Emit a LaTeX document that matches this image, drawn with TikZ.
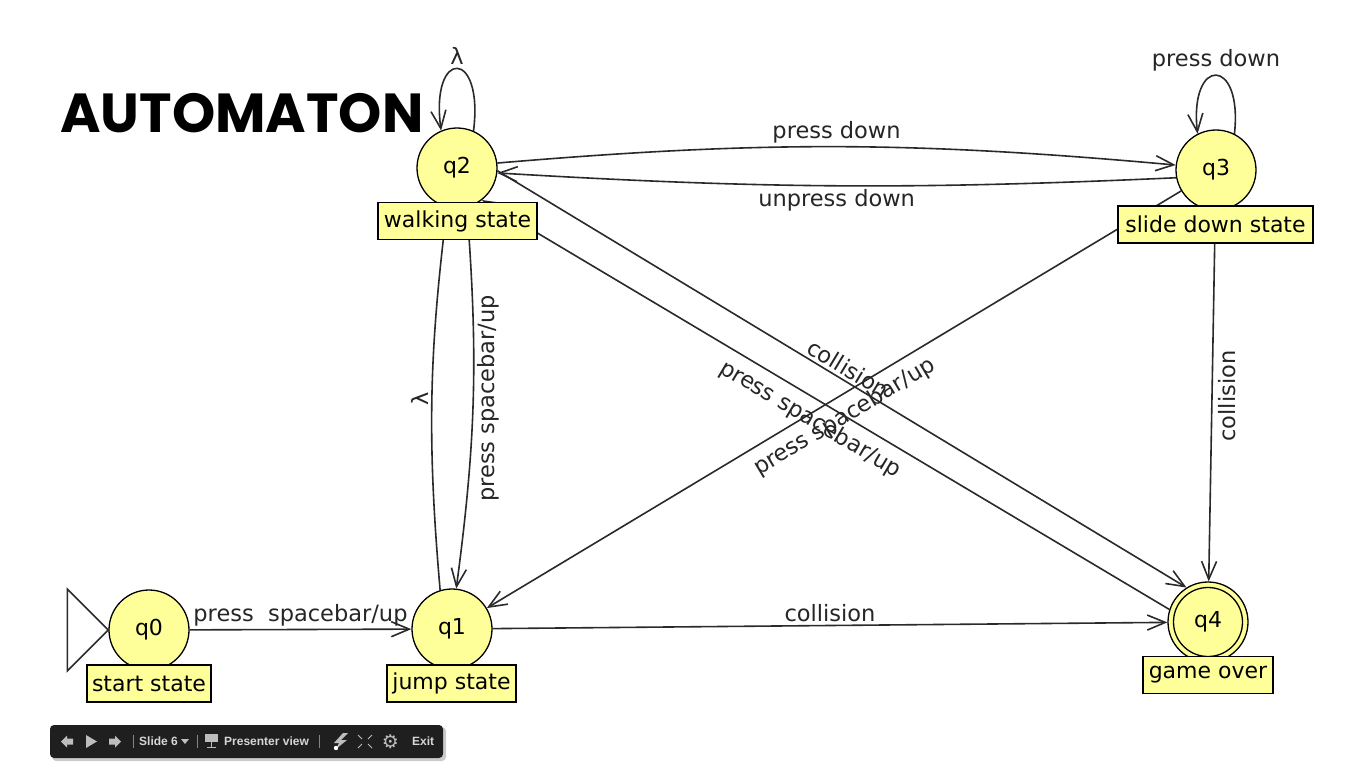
\documentclass[tikz,border=0pt]{standalone}
\usepackage{fontspec}
\setmainfont{DejaVu Sans}
\newfontfamily\titlefont{Poppins}
\newfontfamily\barfont{Liberation Sans}
\newfontfamily\symfont{DejaVu Sans}
\usetikzlibrary{arrows.meta,calc}
\pgfdeclarelayer{bottom}
\pgfdeclarelayer{background}
\pgfsetlayers{bottom,background,main}
\definecolor{stfill}{HTML}{FFFF99}
\definecolor{edgecol}{HTML}{2A2A2A}
\definecolor{barbg}{HTML}{1F1F1F}
\definecolor{bartext}{HTML}{D6D6D6}
\definecolor{baricon}{HTML}{BDBDBD}
\begin{document}
\begin{tikzpicture}[x=1pt,y=-1pt,
  state/.style={circle,draw=black,line width=1.3pt,fill=stfill,minimum size=80pt,inner sep=0pt,font=\fontsize{22}{25}\selectfont},
  tag/.style={rectangle,draw=black,line width=1.5pt,fill=stfill,minimum height=37pt,inner sep=0pt,font=\fontsize{22}{25}\selectfont},
  trans/.style={draw=edgecol,line width=1.6pt,-{Straight Barb[length=18pt,width=15pt]}},
  lbl/.style={font=\fontsize{22.5}{25}\selectfont,text=black!85,inner sep=3pt},
  bartxt/.style={font=\barfont\bfseries\fontsize{12}{14}\selectfont,text=bartext,inner sep=0pt,anchor=west},
  barsep/.style={draw=baricon!70!black,line width=0.8pt},
]
\useasboundingbox (0,0) rectangle (1366,768);
\begin{pgfonlayer}{bottom}
\fill[white] (0,0) rectangle (1366,768);
\end{pgfonlayer}

% title
\node[font=\titlefont\bfseries\fontsize{55}{58}\selectfont,anchor=base west,inner sep=0pt] (title) at (60,132) {AUTOMATON};

% states
\node[state] (q0) at (149,630) {q0};
\node[state] (q1) at (452,629) {q1};
\node[state] (q2) at (457,168) {q2};
\node[state] (q3) at (1216,170) {q3};
\node[state] (q4) at (1208,622) {};
\node[circle,draw=black,line width=1.3pt,minimum size=69pt,inner sep=0pt,font=\fontsize{22}{25}\selectfont] (q4in) at (q4) {q4};

% state tags
\node[tag,minimum width=124pt] (t0) at (149,683.5) {start state};
\node[tag,minimum width=129pt] (t1) at (451.5,683.5) {jump state};
\node[tag,minimum width=159pt] (t2) at (457.5,221) {walking state};
\node[tag,minimum width=195pt] (t3) at (1215.5,224.5) {slide down state};
\node[tag,minimum width=130pt] (t4) at (1208,675) {game over};

% initial marker
\draw[draw=edgecol,line width=1.6pt] (q0.west) -- ++(-41,-41) -- ++(0,82) -- cycle;

\begin{pgfonlayer}{background}
\draw[trans] (q0) -- node[lbl,above] {press\ \ spacebar/up} (q1);
\draw[trans] (q1) -- node[lbl,above] {collision} (q4);
\draw[trans] (q2.7) to[bend left=5] node[lbl,above] {press down} (q3.173);
\draw[trans] (q3.191) to[bend left=3] node[lbl,below] {unpress down} (q2.353);
\draw[trans] (q2.66) .. controls ($(q2)+(27,-120)$) and ($(q2)+(-27,-120)$) .. node[lbl,above] {λ} (q2.113);
\draw[trans] (q3.63) .. controls ($(q3)+(27,-114)$) and ($(q3)+(-27,-114)$) .. node[lbl,above] {press down} (q3.117);
\draw[trans] (q1.107) to[bend left=6] node[lbl,rotate=90,anchor=south] {λ} (q2.256);
\draw[trans] (q2.284) to[bend left=6] node[lbl,rotate=90,anchor=north] {press spacebar/up} (q1.84);
\draw[trans] (q3) -- node[lbl,rotate=90,anchor=north,inner sep=6pt] {collision} (q4);
\draw[trans] (q3) -- node[lbl,sloped,below,pos=0.5,inner sep=9pt] {press spacebar/up} (q1);
\draw[trans] (q2.-4) -- node[lbl,sloped,above,pos=0.5] {collision} (q4.122);
\draw[trans] (q4.162) -- node[lbl,sloped,below,pos=0.507,inner sep=9pt] {press spacebar/up} (q2.-52);
\end{pgfonlayer}

% presentation toolbar
\fill[black!40,opacity=0.5,rounded corners=4pt] (52,727) rectangle (446,761);
\fill[barbg,rounded corners=4pt] (50,725) rectangle (443,758);
\fill[baricon] (61,741.5) -- (67,735.5) -- (67,738.5) -- (73,738.5) -- (73,744.5) -- (67,744.5) -- (67,747.5) -- cycle;
\fill[baricon] (86,735) -- (97,741.5) -- (86,748) -- cycle;
\fill[baricon] (121,741.5) -- (115,735.5) -- (115,738.5) -- (109,738.5) -- (109,744.5) -- (115,744.5) -- (115,747.5) -- cycle;
\draw[barsep] (133,735) -- (133,748);
\node[bartxt] (slide) at (139,741.5) {Slide 6};
\fill[baricon] (181,739) -- (189,739) -- (185,744) -- cycle;
\draw[barsep] (197,735) -- (197,748);
\fill[baricon] (205,734) rectangle (218,742);
\draw[baricon,line width=1.2pt] (211.5,742) -- (211.5,747) (207,747.5) -- (216,747.5);
\node[bartxt] (pview) at (224,741.5) {Presenter view};
\draw[barsep] (319,735) -- (319,748);
\fill[baricon] (343,733) -- (348,733) -- (341,740) -- (347,740) -- (336,749) -- (339,743) -- (334,743) -- cycle;
\fill[white] (336,748) circle (2.2pt);
\draw[baricon,line width=1pt] (358,735) -- (362,739) (372,735) -- (368,739) (358,748) -- (362,744) (372,748) -- (368,744);
\node[font=\symfont\bfseries\fontsize{19}{20}\selectfont,text=baricon,inner sep=0pt] (gear) at (390.5,741.5) {⚙};
\node[bartxt] (exit) at (412,741.5) {Exit};
\end{tikzpicture}
\end{document}
